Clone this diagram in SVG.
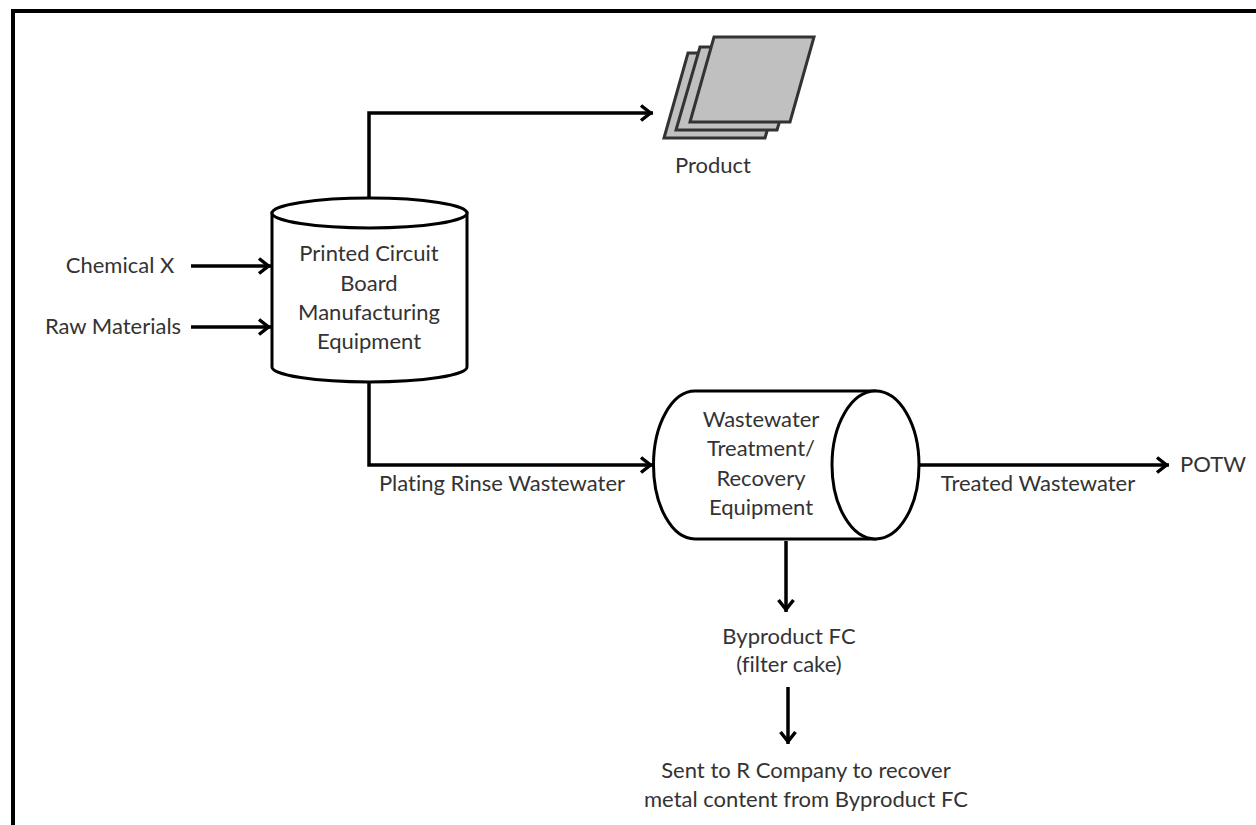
<svg xmlns="http://www.w3.org/2000/svg" width="1256" height="825" viewBox="0 0 1256 825">
<style>
text{font-family:"Lato","Liberation Sans",sans-serif;font-size:22px;fill:#333;text-anchor:middle;font-variant-ligatures:none}
.w{fill:#fff;stroke:#000;stroke-width:3}
.c{fill:none;stroke:#000;stroke-width:3.500}
.p{fill:#c0c0c0;stroke:#333;stroke-width:3}
</style>
<defs><marker id="a" markerUnits="userSpaceOnUse" markerWidth="22" markerHeight="22" refX="18" refY="11" orient="auto"><path d="M6 3.500L15.500 11L6 18.500" fill="none" stroke="#000" stroke-width="3.500"/></marker></defs>
<rect width="1256" height="825" fill="#fff"/>
<path d="M13 825V11H1256" fill="none" stroke="#000" stroke-width="4"/>
<g id="connectors">
<path class="c" marker-end="url(#a)" d="M369 198V113H653"/>
<path class="c" marker-end="url(#a)" d="M191 266H271"/>
<path class="c" marker-end="url(#a)" d="M191 327H271"/>
<path class="c" marker-end="url(#a)" d="M369 382V465H653"/>
<path class="c" marker-end="url(#a)" d="M920 465H1169"/>
<path class="c" marker-end="url(#a)" d="M786 541V612"/>
<path class="c" marker-end="url(#a)" d="M788 687V744"/>
</g>
<g id="product">
<path class="p" d="M664 138H765L790 53H688Z"/>
<path class="p" d="M676 130H777L802 47H700Z"/>
<path class="p" d="M690 122H790L814 37H714Z"/>
<text x="713" y="173">Product</text>
</g>
<g id="manufacturing">
<path class="w" d="M272 213V367A97.500 15 0 0 0 467 367V213Z"/>
<ellipse class="w" cx="369.500" cy="213" rx="97.500" ry="15"/>
<text x="369" y="261">Printed Circuit</text>
<text x="369" y="291">Board</text>
<text x="369" y="320">Manufacturing</text>
<text x="369" y="349">Equipment</text>
</g>
<g id="treatment">
<path class="w" d="M695 391H875V539H695A41.500 74 0 0 1 695 391Z"/>
<ellipse class="w" cx="875.500" cy="465" rx="43.500" ry="74"/>
<text x="761" y="427">Wastewater</text>
<text x="761" y="456">Treatment/</text>
<text x="761" y="486">Recovery</text>
<text x="761" y="515">Equipment</text>
</g>
<g id="labels">
<text x="120" y="273">Chemical X</text>
<text x="113" y="334">Raw Materials</text>
<text x="502" y="491">Plating Rinse Wastewater</text>
<text x="1038" y="491">Treated Wastewater</text>
<text x="1213" y="472">POTW</text>
<text x="789" y="644">Byproduct FC</text>
<text x="789" y="672">(filter cake)</text>
<text x="806" y="778">Sent to R Company to recover</text>
<text x="806" y="807">metal content from Byproduct FC</text>
</g>
</svg>
